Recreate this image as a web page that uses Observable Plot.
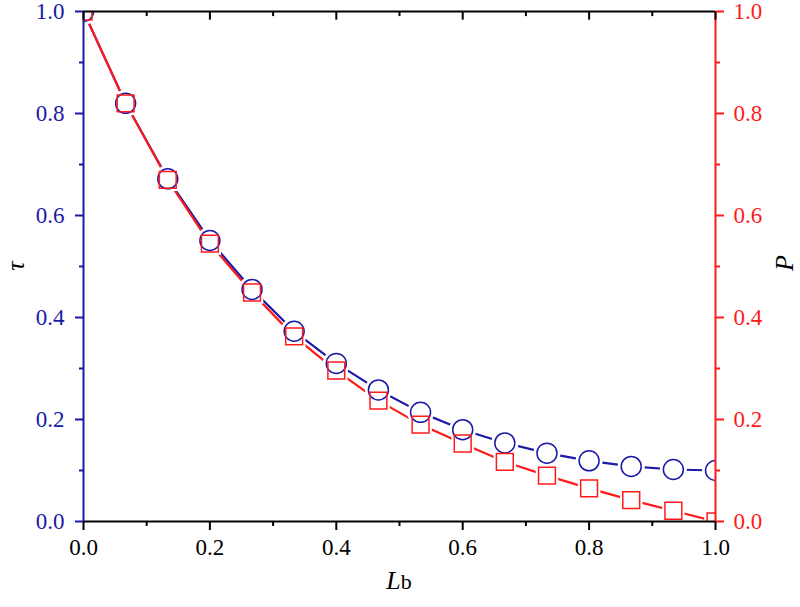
<!DOCTYPE html>
<html>
<head>
<meta charset="utf-8">
<script src="https://cdn.jsdelivr.net/npm/d3@7"></script>
<script src="https://cdn.jsdelivr.net/npm/@observablehq/plot@0.6"></script>
<style>
  body { margin: 0; background: #fff; }
  svg, svg text, svg g { font-family: "Liberation Serif", "Times New Roman", serif !important; }
</style>
</head>
<body>
<div id="chart"></div>
<script>
const Lb = [0, 1/15, 2/15, 3/15, 4/15, 5/15, 6/15, 7/15, 8/15, 9/15, 10/15, 11/15, 12/15, 13/15, 14/15, 1];
const tau = [1.0, 0.82, 0.672, 0.551, 0.455, 0.373, 0.31, 0.258, 0.214, 0.18, 0.154, 0.134, 0.119, 0.108, 0.102, 0.10];
const P   = [1.0, 0.82, 0.67, 0.545, 0.449, 0.363, 0.296, 0.237, 0.19, 0.153, 0.117, 0.09, 0.065, 0.042, 0.021, 0.0];
const majorTicks = [0, 0.2, 0.4, 0.6, 0.8, 1.0];
const minorTicks = [0.1, 0.3, 0.5, 0.7, 0.9];

const blue = "#1a1aa6";
const red = "#ff1a1a";
const dTau = Lb.map((x, i) => ({x, y: tau[i]}));
const dP = Lb.map((x, i) => ({x, y: P[i]}));
const fmt = d3.format(".1f");
const none = () => "";

const chart = Plot.plot({
  width: 800,
  height: 607,
  marginLeft: 83,
  marginRight: 85,
  marginTop: 11,
  marginBottom: 86,
  style: {fontFamily: "Liberation Serif, serif", fontSize: "23px", background: "white"},
  x: {domain: [0, 1]},
  y: {domain: [0, 1]},
  marks: [
    Plot.line(dTau, {x: "x", y: "y", stroke: blue, strokeWidth: 2.2, clip: true}),
    Plot.line(dP, {x: "x", y: "y", stroke: red, strokeWidth: 2.2, clip: true}),
    Plot.dot(dTau, {x: "x", y: "y", r: 12, fill: "white", stroke: "white", strokeWidth: 3, clip: true}),
    Plot.dot(dP, {x: "x", y: "y", symbol: "square", r: 11, fill: "white", stroke: "white", strokeWidth: 3, clip: true}),
    Plot.dot(dTau, {x: "x", y: "y", r: 10, fill: "none", stroke: blue, strokeWidth: 1.5, clip: true}),
    Plot.dot(dP, {x: "x", y: "y", symbol: "square", r: 9.5, fill: "none", stroke: red, strokeWidth: 1.5, clip: true}),
    Plot.ruleY([0], {stroke: "black", strokeWidth: 2}),
    Plot.ruleY([1], {stroke: "black", strokeWidth: 2}),
    Plot.ruleX([0], {stroke: blue, strokeWidth: 2}),
    Plot.ruleX([1], {stroke: red, strokeWidth: 2}),
    Plot.axisX({anchor: "bottom", ticks: majorTicks, tickSize: 9, tickPadding: 8, tickFormat: fmt, stroke: "black", strokeWidth: 2, fill: "black", label: null}),
    Plot.axisX({anchor: "bottom", ticks: minorTicks, tickSize: 5, tickFormat: none, stroke: "black", strokeWidth: 2, label: null}),
    Plot.ruleX(majorTicks, {x: d => d, y1: 1, y2: 0.983, stroke: "black", strokeWidth: 2}),
    Plot.ruleX(minorTicks, {x: d => d, y1: 1, y2: 0.99, stroke: "black", strokeWidth: 2}),
    Plot.axisY({anchor: "left", ticks: majorTicks, tickSize: 8, tickPadding: 11, tickFormat: fmt, stroke: blue, strokeWidth: 2, fill: blue, label: null}),
    Plot.axisY({anchor: "left", ticks: minorTicks, tickSize: 4, tickFormat: none, stroke: blue, strokeWidth: 2, label: null}),
    Plot.axisY({anchor: "right", ticks: majorTicks, tickSize: 8, tickPadding: 10, tickFormat: fmt, stroke: red, strokeWidth: 2, fill: red, label: null}),
    Plot.axisY({anchor: "right", ticks: minorTicks, tickSize: 4, tickFormat: none, stroke: red, strokeWidth: 2, label: null})
  ]
});

const svg = d3.select(chart);
svg.attr("font-family", "Liberation Serif, serif");
svg.selectAll("g").attr("font-family", "Liberation Serif, serif").attr("font-variant", null);

svg.append("text")
  .attr("transform", "translate(24,266) rotate(-90)")
  .attr("text-anchor", "middle")
  .attr("font-size", 26).attr("font-style", "italic")
  .text("τ");
svg.append("text")
  .attr("transform", "translate(793,263) rotate(-90)")
  .attr("text-anchor", "middle")
  .attr("font-size", 26).attr("font-style", "italic")
  .text("P");
const lb = svg.append("text")
  .attr("x", 399).attr("y", 589)
  .attr("text-anchor", "middle")
  .attr("font-size", 26);
lb.append("tspan").attr("font-style", "italic").text("L");
lb.append("tspan").attr("font-size", 22).text("b");

document.getElementById("chart").appendChild(chart);
</script>
</body>
</html>
